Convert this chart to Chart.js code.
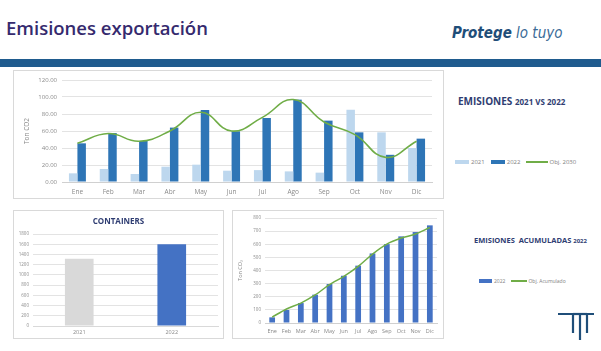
<!DOCTYPE html>
<html lang="es">
<head>
<meta charset="UTF-8">
<title>Emisiones exportación</title>
<script src="https://cdn.jsdelivr.net/npm/chart.js"></script>
<style>
	html, body { margin: 0; padding: 0; background: #fff; }
	body { width: 601px; height: 351px; position: relative; overflow: hidden; font-family: "Open Sans", sans-serif; }
	.abs { position: absolute; }
	.panel { position: absolute; border: 1px solid #d9d9d9; }
	.panel canvas { display: block; }
	.ttl { color: #2f3d72; font-weight: 700; white-space: nowrap; }
	.leg { font-size: 6px; color: #808080; white-space: nowrap; display: flex; align-items: center; }
	.leg span.box { display: inline-block; height: 4px; margin-right: 2px; }
	.leg span.ln { display: inline-block; height: 1.5px; margin-right: 1px; }
	.leg span.txt { margin-right: 6px; }
</style>
</head>
<body>
	<!-- header -->
	<div class="abs" style="left:6px;top:15px;font-size:18.5px;font-weight:600;color:#352a6e;">Emisiones exportación</div>
	<div class="abs" style="left:452px;top:24px;font-size:15px;font-style:italic;color:#1f4e79;font-family:'DejaVu Sans Condensed',sans-serif;">
		<b>Protege</b> <span style="color:#3a6a96;">lo tuyo</span>
	</div>
	<div class="abs" style="left:0;top:59px;width:601px;height:8px;background:#1f5b8e;"></div>

	<!-- top chart -->
	<div class="panel" style="left:13px;top:70px;"><canvas id="chartMes" width="429" height="127"></canvas></div>
	<div class="abs ttl" style="left:458px;top:94px;font-size:10px;">EMISIONES <span style="font-size:8px;">2021 VS 2022</span></div>
	<div class="abs leg" id="legMes" style="left:455px;top:158px;"></div>

	<!-- containers -->
	<div class="panel" style="left:13px;top:210px;"><canvas id="chartCont" width="209" height="127"></canvas></div>
	<div class="abs ttl" style="left:14px;width:209px;top:215px;text-align:center;font-size:8px;">CONTAINERS</div>

	<!-- acumulado -->
	<div class="panel" style="left:232px;top:210px;"><canvas id="chartAcum" width="210" height="127"></canvas></div>
	<div class="abs ttl" style="left:474px;top:235px;font-size:7.5px;">EMISIONES &nbsp;ACUMULADAS <span style="font-size:6px;">2022</span></div>
	<div class="abs leg" id="legAcum" style="left:479px;top:278px;font-size:5px;"></div>

	<!-- logo -->
	<svg class="abs" style="left:555px;top:309px;" width="42" height="34">
		<g fill="none" stroke="#1f4e79" stroke-width="2.2">
			<path d="M3 5 H18 V24" />
			<path d="M39 5 H32 V24" />
			<path d="M18 5 H32" />
			<path d="M25 5 V31" />
		</g>
	</svg>

	<script>
	// categories
	const meses = ['Ene', 'Feb', 'Mar', 'Abr', 'May', 'Jun', 'Jul', 'Ago', 'Sep', 'Oct', 'Nov', 'Dic'];
	// monthly emissions (Ton CO2)
	const emis2021 = [10.2, 15.3, 9.4, 18, 20.4, 13.3, 14, 12.5, 11, 85, 58.4, 40];
	const emis2022 = [45.5, 57.6, 48.2, 64, 84.7, 59.6, 75.3, 96.9, 72.2, 58.4, 32, 51];
	const obj2030 = [45.5, 57, 48, 60, 82, 60, 76, 97, 70.6, 55.7, 29, 48];
	const ticksMes = [0, 20, 40, 60, 80, 100, 120];
	// containers
	const anios = ['2021', '2022'];
	const containers = [1317, 1598];
	const ticksCont = [0, 200, 400, 600, 800, 1000, 1200, 1400, 1600, 1800];
	// accumulated
	const acum2022 = [43, 99, 152, 216, 297, 360, 437, 530, 601, 660, 693, 744];
	const objAcum = [45, 107, 152, 214, 292, 355, 431, 525, 601, 647, 678, 728];
	const ticksAcum = [0, 100, 200, 300, 400, 500, 600, 700, 800];

	const gridCol = '#e3e3e3';
	const tickCol = '#8a8a8a';
	const fam = "'Open Sans', sans-serif";

	function legend(id, items) {
		const el = document.getElementById(id);
		items.forEach(it => {
			const mark = document.createElement('span');
			mark.className = it.line ? 'ln' : 'box';
			mark.style.width = it.w + 'px';
			mark.style.background = it.color;
			const t = document.createElement('span');
			t.className = 'txt';
			t.textContent = it.label;
			el.appendChild(mark);
			el.appendChild(t);
		});
	}

	legend('legMes', [
		{ label: '2021', color: '#bdd7ee', w: 14 },
		{ label: '2022', color: '#2e75b6', w: 14 },
		{ label: 'Obj. 2030', color: '#70ad47', w: 22, line: true }
	]);
	legend('legAcum', [
		{ label: '2022', color: '#4472c4', w: 13 },
		{ label: 'Obj. Acumulado', color: '#70ad47', w: 16, line: true }
	]);

	Chart.defaults.font.family = fam;
	Chart.defaults.animation = false;
	Chart.defaults.responsive = false;
	Chart.defaults.plugins.legend.display = false;
	Chart.defaults.plugins.tooltip.enabled = false;

	// top chart
	new Chart(document.getElementById('chartMes'), {
		data: {
			labels: meses,
			datasets: [{
				type: 'line',
				label: 'Obj. 2030',
				data: obj2030,
				borderColor: '#70ad47',
				borderWidth: 1.6,
				pointRadius: 0,
				tension: 0.45,
				order: 0
			}, {
				type: 'bar',
				label: '2021',
				data: emis2021,
				backgroundColor: '#bdd7ee',
				categoryPercentage: 0.55,
				barPercentage: 1,
				order: 1
			}, {
				type: 'bar',
				label: '2022',
				data: emis2022,
				backgroundColor: '#2e75b6',
				categoryPercentage: 0.55,
				barPercentage: 1,
				order: 1
			}]
		},
		options: {
			layout: { padding: { left: 9, right: 11, top: 9, bottom: 2 } },
			scales: {
				x: {
					grid: { display: false, drawTicks: false },
					border: { color: '#d0d0d0' },
					ticks: { font: { size: 6.5 }, color: tickCol, padding: 6, maxRotation: 0, autoSkip: false },
					afterFit: a => { a.height = 14; }
				},
				y: {
					min: 0, max: 120,
					afterBuildTicks: a => { a.ticks = ticksMes.map(v => ({ value: v })); },
					grid: { color: gridCol, drawTicks: false },
					border: { display: false },
					ticks: { font: { size: 6 }, color: tickCol, padding: 5, callback: v => v.toFixed(2) },
					title: { display: true, text: 'Ton CO2', font: { size: 6.5 }, color: tickCol, padding: 0 },
					afterFit: a => { a.width = 39; }
				}
			}
		}
	});

	// containers chart
	new Chart(document.getElementById('chartCont'), {
		type: 'bar',
		data: {
			labels: anios,
			datasets: [{
				data: containers,
				backgroundColor: ['#d9d9d9', '#4472c4'],
				barPercentage: 0.62,
				categoryPercentage: 0.5
			}]
		},
		options: {
			layout: { padding: { left: 0, right: 5, top: 23, bottom: 2 } },
			scales: {
				x: {
					grid: { display: false, drawTicks: false },
					border: { color: '#d9d9d9' },
					ticks: { font: { size: 5.5 }, color: tickCol, padding: 3 },
					afterFit: a => { a.height = 10; }
				},
				y: {
					min: 0, max: 1800,
					afterBuildTicks: a => { a.ticks = ticksCont.map(v => ({ value: v })); },
					grid: { color: gridCol, drawTicks: false },
					border: { display: false },
					ticks: { font: { size: 4.5 }, color: tickCol, padding: 4, callback: v => String(v) },
					afterFit: a => { a.width = 19; }
				}
			}
		}
	});

	// accumulated chart
	new Chart(document.getElementById('chartAcum'), {
		data: {
			labels: meses,
			datasets: [{
				type: 'line',
				label: 'Obj. Acumulado',
				data: objAcum,
				borderColor: '#70ad47',
				borderWidth: 1.5,
				pointRadius: 0,
				tension: 0.3,
				order: 0
			}, {
				type: 'bar',
				label: '2022',
				data: acum2022,
				backgroundColor: '#4472c4',
				categoryPercentage: 0.4,
				barPercentage: 1,
				order: 1
			}]
		},
		options: {
			layout: { padding: { left: 4, right: 6, top: 7, bottom: 2 } },
			scales: {
				x: {
					grid: { display: false, drawTicks: false },
					border: { color: '#d0d0d0' },
					ticks: { font: { size: 5.5 }, color: tickCol, padding: 5, maxRotation: 0, minRotation: 0, autoSkip: false },
					afterFit: a => { a.height = 13; }
				},
				y: {
					min: 0, max: 800,
					afterBuildTicks: a => { a.ticks = ticksAcum.map(v => ({ value: v })); },
					grid: { color: gridCol, drawTicks: false },
					border: { display: false },
					ticks: { font: { size: 4.5 }, color: tickCol, padding: 4, callback: v => String(v) },
					title: { display: true, text: 'Ton CO₂', font: { size: 5.5 }, color: tickCol, padding: 0 },
					afterFit: a => { a.width = 28; }
				}
			}
		}
	});
	</script>
</body>
</html>
